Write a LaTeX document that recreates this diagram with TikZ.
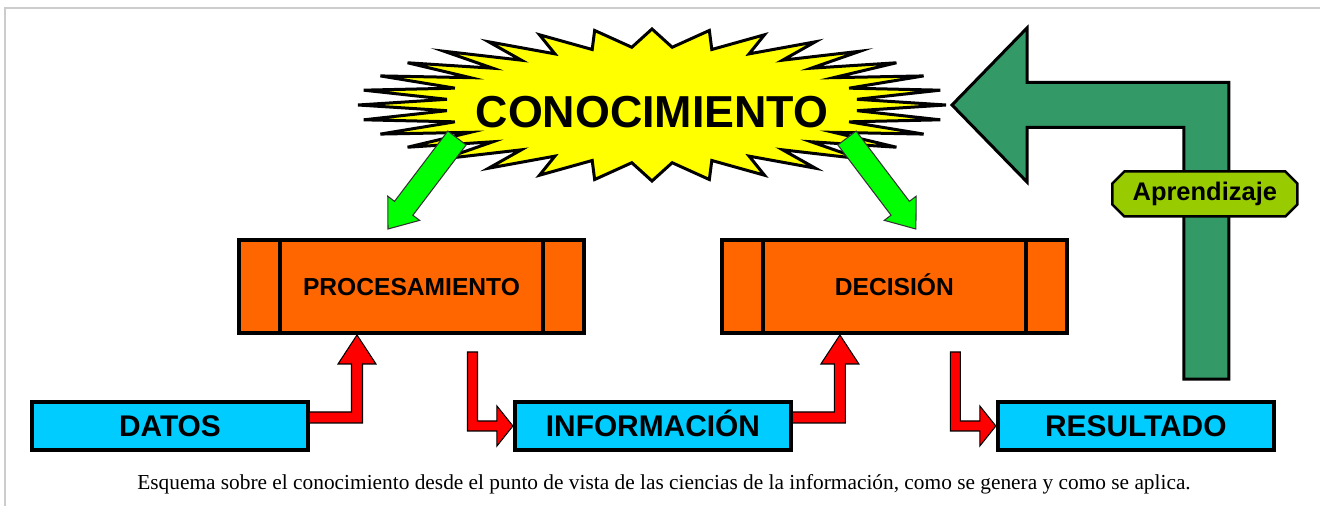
\documentclass[tikz,border=0pt]{standalone}
\usepackage{fontspec}
\setmainfont{Liberation Serif}
\newfontfamily\arialfont{Liberation Sans}
\usetikzlibrary{positioning, calc, backgrounds}
\definecolor{stagecol}{HTML}{FF6600}
\definecolor{datacol}{HTML}{00CCFF}
\definecolor{burstcol}{HTML}{FFFF00}
\definecolor{knowcol}{HTML}{00FF00}
\definecolor{learncol}{HTML}{339966}
\definecolor{tagcol}{HTML}{99CC00}
\definecolor{framecol}{HTML}{CCCCCC}
\tikzset{
    databox/.style={
        rectangle, minimum width=5.52cm, minimum height=0.96cm,
        draw=black, line width=0.08cm, fill=datacol,
        text height=12.4pt, text depth=0pt,
        font=\arialfont\bfseries\fontsize{17}{20}\selectfont
    },
    stagebox/.style={
        rectangle, minimum width=6.9cm, minimum height=1.86cm,
        draw=black, line width=0.08cm, fill=stagecol,
        text height=10pt, text depth=0pt,
        font=\arialfont\bfseries\fontsize{14}{16}\selectfont,
        path picture={
            \draw[line width=0.08cm] ($(path picture bounding box.north west)+(41,0)$) -- ($(path picture bounding box.south west)+(41,0)$);
            \draw[line width=0.08cm] ($(path picture bounding box.north east)+(-41,0)$) -- ($(path picture bounding box.south east)+(-41,0)$);
        }
    },
    tagline/.style={
        fill=tagcol, draw=black, line width=0.05cm, line join=miter
    },
    tagtext/.style={
        font=\arialfont\bfseries\fontsize{14.5}{17}\selectfont
    },
    burst/.style={
        fill=burstcol, draw=black, line width=0.06cm, line join=miter
    },
    flow/.style={
        fill=red, draw=black, line width=0.6pt, line join=miter
    },
    knowarrow/.style={
        fill=knowcol, draw=black!80, line width=0.6pt, line join=miter
    },
    learnflow/.style={
        fill=learncol, draw=black, line width=0.06cm, line join=miter
    },
    frameline/.style={
        draw=framecol, line width=0.03cm
    }
}
% elbow arrow: out of the side of #1, up into the bottom of #2
\newcommand{\upflow}[2]{%
    \coordinate (s) at ($(#1.east)+(-3,-8.5)$);
    \coordinate (t) at ($(#2.south)+(-54.5,0)$);
    \filldraw[flow] ($(s)+(0,-5.5)$) -- ($(t |- s)+(-5.5,-5.5)$) -- ($(t)+(-5.5,29)$) -- ($(t)+(-19,29)$)
        -- (t) -- ($(t)+(19,29)$) -- ($(t)+(5.5,29)$) -- ($(t |- s)+(5.5,5.5)$) -- ($(s)+(0,5.5)$) -- cycle;
}
% elbow arrow: down from under #1, right into the side of #2
\newcommand{\downflow}[2]{%
    \coordinate (s) at ($(#1.south)+(61,17)$);
    \coordinate (t) at (#2.west);
    \filldraw[flow] ($(s)+(-5,0)$) -- ($(s |- t)+(-5,5)$) -- ($(t)+(-16,5)$) -- ($(t)+(-16,20)$)
        -- (t) -- ($(t)+(-16,-20)$) -- ($(t)+(-16,-5)$) -- ($(s |- t)+(5,-5)$) -- ($(s)+(5,0)$) -- cycle;
}
% straight block arrow from #1 to #2
\newcommand{\knowflow}[2]{%
    \coordinate (a) at (#1);
    \coordinate (b) at (#2);
    \coordinate (h) at ($(b)!0.52cm!(a)$);
    \filldraw[knowarrow] ($(a)!0.23cm!90:(b)$) -- ($(h)!0.23cm!90:(b)$) -- ($(h)!0.4cm!90:(b)$) -- (b)
        -- ($(h)!0.4cm!-90:(b)$) -- ($(h)!0.23cm!-90:(b)$) -- ($(a)!0.23cm!-90:(b)$) -- cycle;
}

\begin{document}
\begin{tikzpicture}[x=0.02cm, y=-0.02cm]
    \useasboundingbox (0,0) rectangle (1320,506);

    % ── Frame ──
    \draw[frameline] (5,506) -- (5,8) -- (1320,8);

    % ── Knowledge ──
    \draw[burst] plot[domain=0:63, samples=64, variable=\k]
        ({652+(250+44*cos(180*\k))*cos(5.625*\k)}, {105+(67+9*cos(180*\k))*sin(5.625*\k)}) -- cycle;
    \node[font=\arialfont\bfseries\fontsize{25.5}{30}\selectfont] (kno) at (652,112) {CONOCIMIENTO};

    % ── Nodes ──
    \node[stagebox]                   (proc)   at (411.5,286.5) {PROCESAMIENTO};
    \node[stagebox, right=2.68cm of proc] (dec)                 {DECISIÓN};
    \node[databox]                    (datos)  at (170,426)     {DATOS};
    \node[databox, right=4.06cm of datos] (info)                {INFORMACIÓN};
    \node[databox, right=4.06cm of info]  (result)              {RESULTADO};

    % ── Arrows ──
    \knowflow{$(kno)+(-195,26)$}{$(proc.north)+(-23.5,-9)$}
    \knowflow{$(kno)+(195,26)$}{$(dec.north)+(21.5,-9)$}

    \begin{scope}[on background layer]
        \upflow{datos}{proc}
        \downflow{proc}{info}
        \upflow{info}{dec}
        \downflow{dec}{result}
    \end{scope}

    % ── Learning loop ──
    \coordinate (learnfrom) at ($(result.north)+(70.5,-21)$);
    \coordinate (learnto)   at ($(kno)+(300,-7)$);
    \draw[learnflow] (learnto) -- ($(learnto)+(75,-77)$) -- ($(learnto)+(75,-22.5)$)
        -- ($(learnfrom |- learnto)+(22.5,-22.5)$) -- ($(learnfrom)+(22.5,0)$) -- ($(learnfrom)+(-22.5,0)$)
        -- ($(learnfrom |- learnto)+(-22.5,22.5)$) -- ($(learnto)+(75,22.5)$) -- ($(learnto)+(75,77)$) -- cycle;
    \coordinate (tag) at ($(learnfrom |- learnto)+(-1.5,89)$);
    \filldraw[tagline] ($(tag)+(-92.5,-10.5)$) -- ($(tag)+(-80.5,-22.5)$) -- ($(tag)+(80.5,-22.5)$) -- ($(tag)+(92.5,-10.5)$)
        -- ($(tag)+(92.5,10.5)$) -- ($(tag)+(80.5,22.5)$) -- ($(tag)+(-80.5,22.5)$) -- ($(tag)+(-92.5,10.5)$) -- cycle;
    \node[tagtext] (learn) at (tag) {Aprendizaje};

    % ── Caption ──
    \node[font=\fontsize{12.15}{14}\selectfont] (caption) at (664,484)
        {Esquema sobre el conocimiento desde el punto de vista de las ciencias de la información, como se genera y como se aplica.};

\end{tikzpicture}
\end{document}
